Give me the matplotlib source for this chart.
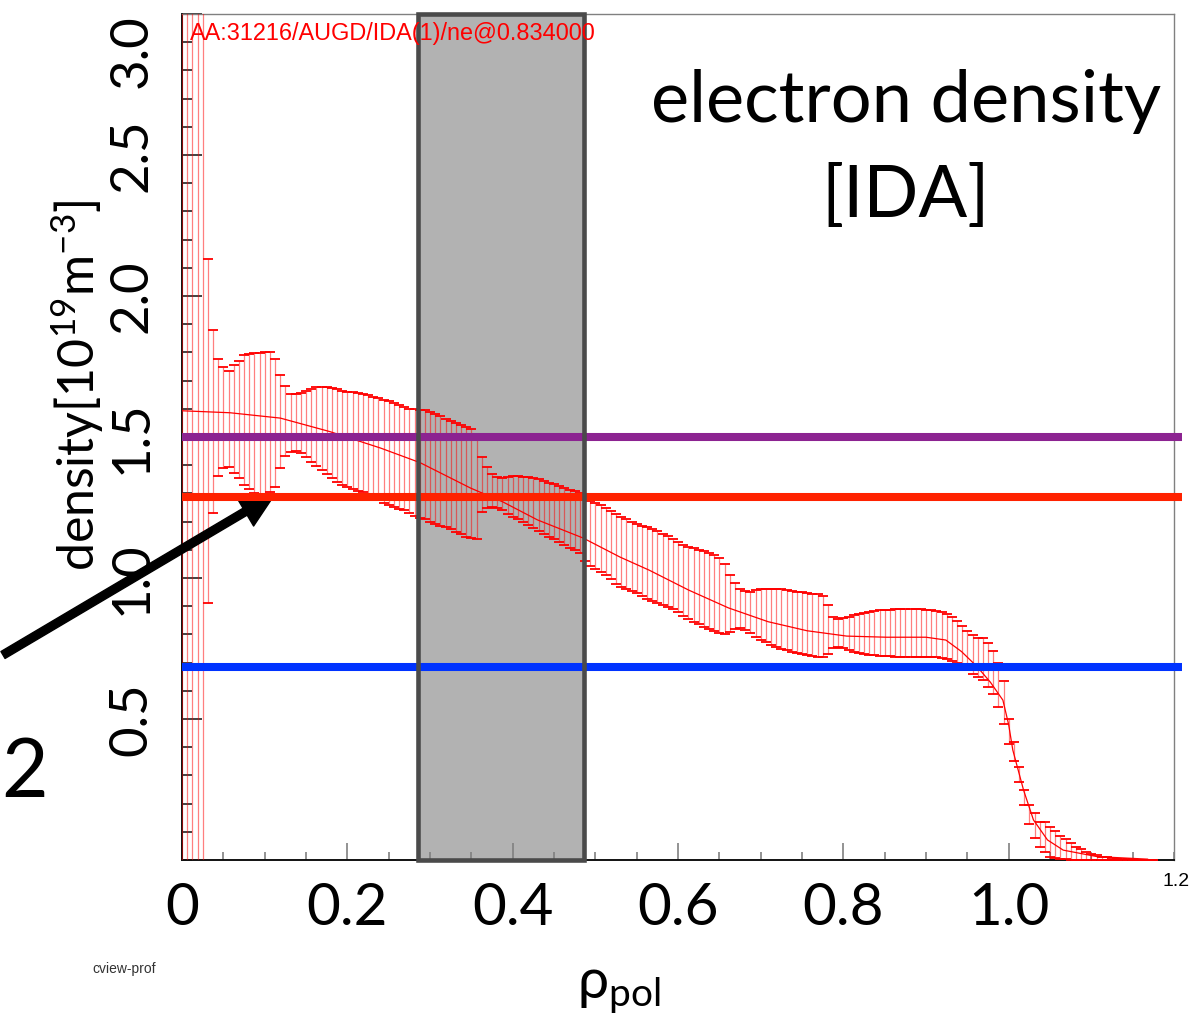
import numpy as np
import matplotlib
matplotlib.use("Agg")
import matplotlib.pyplot as plt
from matplotlib.patches import Rectangle
from matplotlib.ticker import MultipleLocator

# ---------------- data ----------------
rho_step = 0.00625

upper = [
    3.6, 3.6, 3.6, 3.6, 3.6,
    2.13, 1.88, 1.775, 1.747, 1.735,
    1.755, 1.77, 1.79, 1.794, 1.797,
    1.797, 1.80, 1.80, 1.775, 1.72,
    1.68, 1.652, 1.652, 1.655, 1.663,
    1.67, 1.676, 1.678, 1.676, 1.672,
    1.669, 1.663, 1.66, 1.658, 1.655,
    1.652, 1.649, 1.643, 1.637, 1.631,
    1.628, 1.62, 1.613, 1.606, 1.60,
    1.598, 1.597, 1.594, 1.588, 1.582,
    1.573, 1.563, 1.555, 1.55, 1.543,
    1.536, 1.528, 1.49, 1.43, 1.395,
    1.37, 1.358, 1.355, 1.357, 1.36,
    1.36, 1.358, 1.357, 1.355, 1.35,
    1.345, 1.338, 1.333, 1.325, 1.32,
    1.313, 1.308, 1.302, 1.285, 1.272,
    1.266, 1.26, 1.25, 1.237, 1.227,
    1.218, 1.21, 1.20, 1.193, 1.186,
    1.18, 1.173, 1.165, 1.157, 1.148,
    1.138, 1.128, 1.118, 1.11, 1.105,
    1.10, 1.095, 1.09, 1.082, 1.072,
    1.048, 1.012, 0.982, 0.962, 0.953,
    0.952, 0.956, 0.96, 0.961, 0.961,
    0.961, 0.96, 0.957, 0.954, 0.951,
    0.949, 0.947, 0.945, 0.943, 0.935,
    0.905, 0.862, 0.856, 0.858, 0.862,
    0.868, 0.872, 0.876, 0.879, 0.882,
    0.885, 0.887, 0.888, 0.889, 0.89,
    0.89, 0.89, 0.89, 0.889, 0.888,
    0.886, 0.883, 0.878, 0.872, 0.862,
    0.848, 0.83, 0.812, 0.798, 0.787,
    0.786, 0.771, 0.742, 0.697, 0.635,
    0.50, 0.42, 0.331, 0.248, 0.195,
    0.165, 0.136, 0.136, 0.118, 0.103,
    0.085, 0.073, 0.059, 0.047, 0.038,
    0.027, 0.021, 0.017, 0.012, 0.009,
    0.007, 0.005, 0.004, 0.003, 0.002,
    0.0015, 0.001, 0.0005, 0.0,
]

lower = [
    -0.6, -0.6, -0.6, -0.6, -0.6,
    0.91, 1.23, 1.36, 1.39, 1.394,
    1.373, 1.353, 1.33, 1.314, 1.303,
    1.298, 1.298, 1.305, 1.324, 1.391,
    1.433, 1.448, 1.451, 1.444, 1.43,
    1.412, 1.397, 1.383, 1.368, 1.353,
    1.341, 1.33, 1.321, 1.314, 1.309,
    1.304, 1.295, 1.285, 1.276, 1.267,
    1.26, 1.251, 1.245, 1.24, 1.232,
    1.22, 1.213, 1.208, 1.20, 1.19,
    1.184, 1.18, 1.172, 1.163, 1.155,
    1.146, 1.142, 1.14, 1.235, 1.248,
    1.252, 1.248, 1.24, 1.226, 1.215,
    1.21, 1.197, 1.188, 1.177, 1.166,
    1.155, 1.146, 1.137, 1.128, 1.118,
    1.108, 1.098, 1.087, 1.06, 1.042,
    1.032, 1.022, 1.01, 0.995, 0.98,
    0.968, 0.962, 0.954, 0.946, 0.935,
    0.925, 0.918, 0.912, 0.905, 0.898,
    0.889, 0.878, 0.866, 0.855, 0.845,
    0.836, 0.828, 0.82, 0.812, 0.806,
    0.80, 0.81, 0.82, 0.823, 0.815,
    0.805, 0.792, 0.78, 0.772, 0.764,
    0.757, 0.75, 0.743, 0.738, 0.734,
    0.73, 0.727, 0.724, 0.721, 0.72,
    0.73, 0.753, 0.754, 0.752, 0.746,
    0.739, 0.735, 0.731, 0.728, 0.726,
    0.724, 0.723, 0.722, 0.721, 0.72,
    0.72, 0.72, 0.72, 0.72, 0.72,
    0.72, 0.72, 0.716, 0.712, 0.706,
    0.697, 0.685, 0.672, 0.66, 0.648,
    0.638, 0.612, 0.587, 0.541, 0.482,
    0.411, 0.35, 0.275, 0.195, 0.128,
    0.079, 0.047, 0.03, 0.012, 0.008,
    0.004, 0.002, 0.001, 0.0, 0.0,
    0.0, 0.0, 0.0, 0.0, 0.0,
    0.0, 0.0, 0.0, 0.0, 0.0,
    0.0, 0.0, 0.0, 0.0,
]

prof_rho = [0.0, 0.058, 0.119, 0.179, 0.240, 0.288, 0.349, 0.388, 0.430,
            0.485, 0.530, 0.565, 0.613, 0.661, 0.709, 0.756, 0.804, 0.852,
            0.900, 0.924, 0.943, 0.962, 0.978, 0.993, 1.000, 1.005, 1.018,
            1.030, 1.047, 1.066, 1.107, 1.168]
prof_ne = [1.593, 1.586, 1.567, 1.519, 1.461, 1.409, 1.319, 1.27, 1.206,
           1.142, 1.074, 1.028, 0.957, 0.894, 0.845, 0.813, 0.794, 0.79,
           0.79, 0.78, 0.739, 0.685, 0.63, 0.567, 0.48, 0.39, 0.248,
           0.142, 0.071, 0.035, 0.012, 0.003]

ref_levels = [1.50, 1.287, 0.684]
ref_colors = ["#8c2391", "#ff2200", "#0033ff"]
box_range = [0.286, 0.486]

xtick_vals = [0, 0.2, 0.4, 0.6, 0.8, 1.0]
xtick_labels = ["0", "0.2", "0.4", "0.6", "0.8", "1.0"]
ytick_vals = [0.5, 1.0, 1.5, 2.0, 2.5, 3.0]
ytick_labels = ["0.5", "1.0", "1.5", "2.0", "2.5", "3.0"]

# ---------------- style ----------------
plt.rcParams["font.family"] = ["Lato", "DejaVu Sans"]
plt.rcParams["mathtext.fontset"] = "custom"
plt.rcParams["mathtext.rm"] = "Lato"
plt.rcParams["mathtext.it"] = "Lato:italic"
plt.rcParams["mathtext.bf"] = "Lato:bold"

W, H = 1195, 1017
fig = plt.figure(figsize=(W / 100, H / 100), dpi=100)
ax = fig.add_axes([182 / W, 1 - 860 / H, (1174 - 182) / W, (860 - 14) / H])
ax.set_xlim(0, 1.2)
ax.set_ylim(0, 3.0)

U = np.array(upper)
L = np.array(lower)
rho = np.arange(len(U)) * rho_step
mid = (U + L) / 2
err = (U - L) / 2

# shaded region
ax.add_patch(Rectangle((box_range[0], 0), box_range[1] - box_range[0], 3.0,
                       facecolor="#b2b2b2", edgecolor="none", zorder=1))

eb = ax.errorbar(rho, mid, yerr=err, fmt="none", ecolor="#ff0000",
                 elinewidth=0.9, capsize=3.6, capthick=1.3, zorder=3)
for c in eb[2]:
    c.set_alpha(0.5)

ax.plot(prof_rho, prof_ne, color="#ff0000", lw=0.9, zorder=4)

ax.add_patch(Rectangle((box_range[0], 0), box_range[1] - box_range[0], 3.0,
                       facecolor="none", edgecolor="#4a4a4a", lw=3.3, zorder=6,
                       clip_on=False))

for lvl, col in zip(ref_levels, ref_colors):
    ax.plot([0, 1.21], [lvl, lvl], color=col, lw=5.8, solid_capstyle="butt",
            clip_on=False, zorder=5)

# axes cosmetics
for s in ["top", "right"]:
    ax.spines[s].set_color("#808080")
    ax.spines[s].set_linewidth(1.0)
for s in ["left", "bottom"]:
    ax.spines[s].set_color("#111111")
    ax.spines[s].set_linewidth(1.4)

ax.set_xticks(xtick_vals)
ax.set_xticklabels(xtick_labels)
ax.xaxis.set_minor_locator(MultipleLocator(0.05))
ax.tick_params(axis="x", which="major", direction="in", length=12, width=1.2,
               color="#808080", pad=16, labelsize=42)
ax.tick_params(axis="x", which="minor", direction="in", length=6, width=1.2,
               color="#808080")

ax.set_yticks(ytick_vals)
ax.set_yticklabels(ytick_labels, rotation=90, va="center")
ax.yaxis.set_minor_locator(MultipleLocator(0.1))
ax.tick_params(axis="y", which="major", direction="in", length=14.4, width=1.2,
               color="#222222", pad=19, labelsize=38)
ax.tick_params(axis="y", which="minor", direction="in", length=7.2, width=1.2,
               color="#222222")
ax.get_yticklabels()[-1].set_va("top")

# texts
fig.text(906 / W, 1 - 122 / H, "electron density", ha="center", va="baseline",
         fontsize=52)
fig.text(906 / W, 1 - 217 / H, "[IDA]", ha="center", va="baseline", fontsize=52)
fig.text(190 / W, 1 - 40 / H, "AA:31216/AUGD/IDA(1)/ne@0.834000", color="#ff0000",
         fontsize=16.9, family=["Liberation Sans", "DejaVu Sans"], va="baseline")
fig.text(78 / W, 1 - 385 / H, r"density[10$^{\mathrm{19}}$m$^{\mathrm{-3}}$]",
         rotation=90, ha="center", va="center", fontsize=36)
fig.text(619 / W, 1 - 990 / H, r"ρ$_{\mathrm{pol}}$", ha="center", va="center",
         fontsize=40)
fig.text(124 / W, 1 - 969 / H, "cview-prof", ha="center", va="center", fontsize=10,
         color="#333333", family=["Liberation Sans Narrow", "Liberation Sans"])
fig.text(1176 / W, 1 - 882 / H, "1.2", ha="center", va="center", fontsize=14,
         family=["Liberation Sans Narrow", "Liberation Sans"])
fig.text(1 / W, 1 - 797 / H, "2", ha="left", va="baseline", fontsize=58)

ax.annotate("", xy=(275, H - 494), xycoords="figure pixels",
            xytext=(3, H - 655), textcoords="figure pixels",
            arrowprops=dict(arrowstyle="simple,head_length=25,head_width=24,tail_width=5.8",
                            mutation_scale=1, color="black", shrinkA=0, shrinkB=0),
            annotation_clip=False)

fig.savefig("out.png", dpi=100, facecolor="white")
